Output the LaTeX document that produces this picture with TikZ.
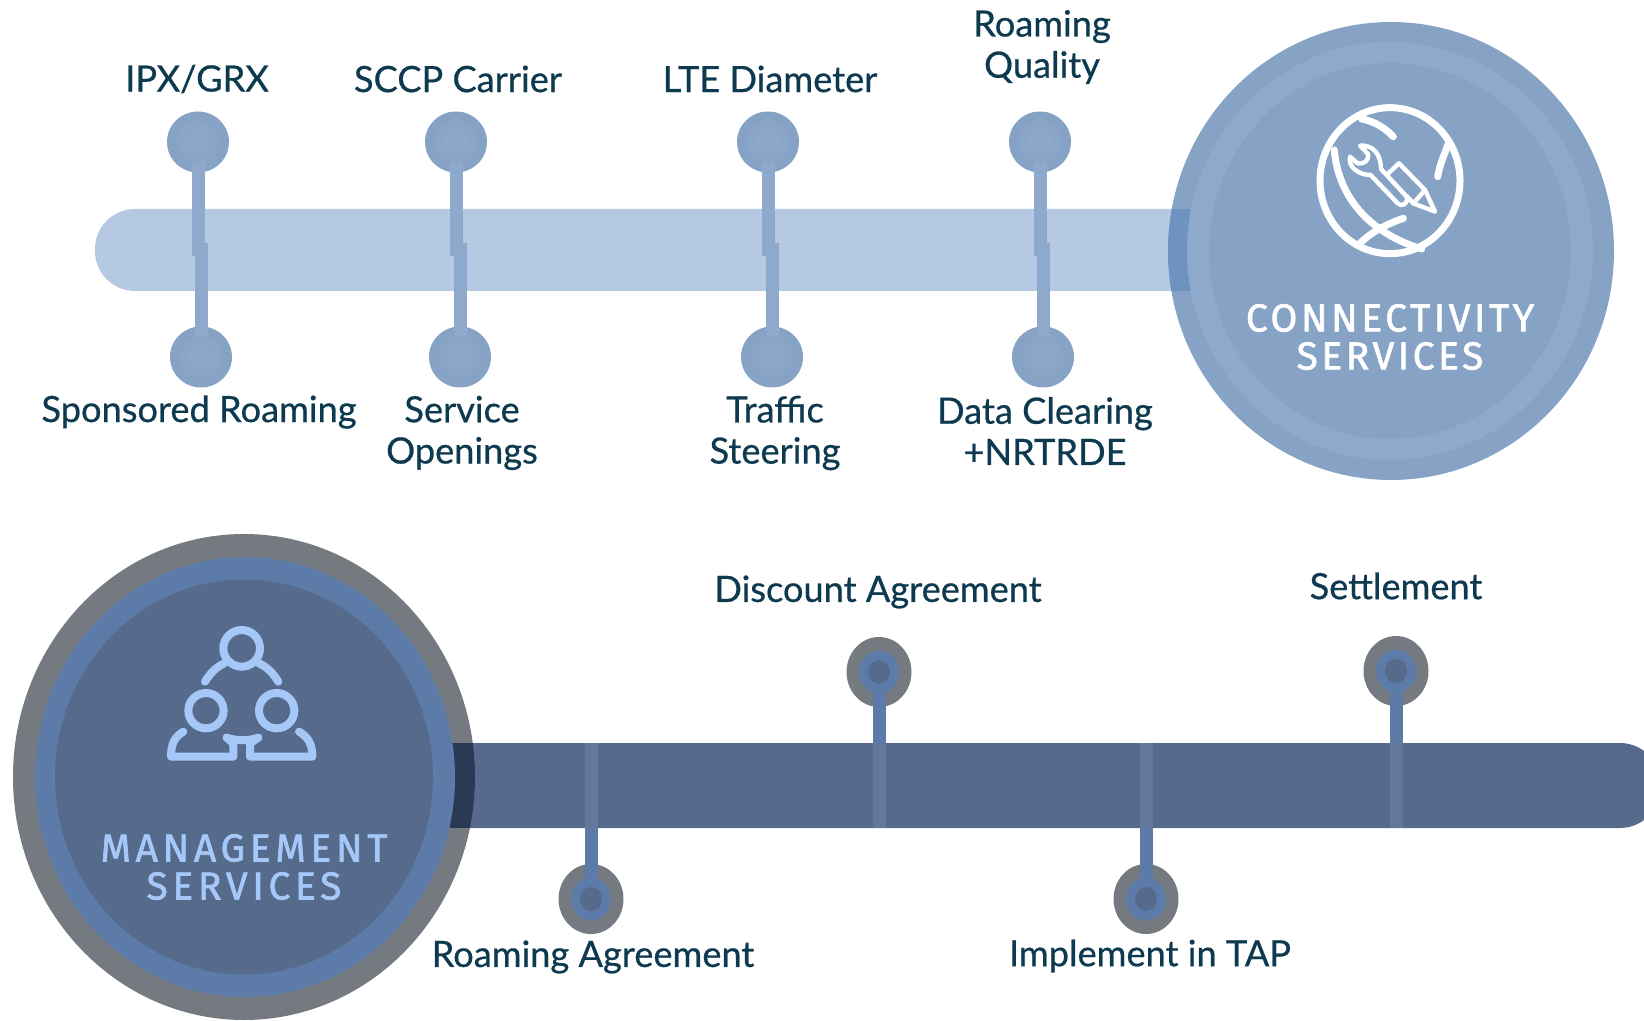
\documentclass[tikz,border=0pt]{standalone}
\usepackage{fontspec}
\setmainfont{Lato}[RawFeature={embolden=0.6}]
\newfontfamily\titlefonta{Fira Sans}[LetterSpace=9.0,RawFeature={embolden=1.6}]
\newfontfamily\titlefontb{Fira Sans}[LetterSpace=12.0,RawFeature={embolden=1.6}]
\usetikzlibrary{shapes.geometric}
\definecolor{lbar}{HTML}{B5CAE2}
\definecolor{lmain}{HTML}{86A3C6}
\definecolor{lring}{HTML}{8DA9CB}
\definecolor{lpinr}{HTML}{89A6C9}
\definecolor{ldot}{HTML}{8FA7C6}
\definecolor{lover}{HTML}{6F93C0}
\definecolor{lconn}{HTML}{8EA9CB}
\definecolor{dgray}{HTML}{757A80}
\definecolor{dring}{HTML}{5C7BA8}
\definecolor{dmain}{HTML}{566B8C}
\definecolor{dover}{HTML}{2A3A55}
\definecolor{dicon}{HTML}{A5C8F8}
\definecolor{dinbar}{HTML}{62789E}
\definecolor{labelc}{HTML}{0E3A50}
\tikzset{
  x=0.5pt,y=-0.5pt,
  disc/.style={ellipse,inner sep=0pt,outer sep=0pt,draw=none},
  lpin/.style={disc,fill=lmain,minimum width=31pt,minimum height=30.5pt},
  lpinring/.style={disc,fill=lpinr,minimum width=21pt,minimum height=21pt},
  lpindot/.style={disc,fill=ldot,minimum width=13pt,minimum height=13pt},
  dpin/.style={disc,fill=dgray,minimum width=32.5pt,minimum height=35pt},
  dpinring/.style={disc,fill=dring,minimum width=20pt,minimum height=21.5pt},
  dpindot/.style={disc,fill=dmain,minimum width=11pt,minimum height=12pt},
  lconnector/.style={draw=lconn,line width=6.5pt},
  dconnector/.style={draw=dring,line width=6.5pt},
  dbarpart/.style={draw=dinbar,line width=6.5pt},
  lab/.style={font=\fontsize{18.1}{20.6}\selectfont,text=labelc,align=center,inner sep=0pt},
  ttl/.style={font=\fontsize{19.5}{19}\selectfont,align=center,inner sep=0pt},
  icoA/.style={draw=white,line width=3.5pt,line cap=round,line join=round},
  icoT/.style={draw=white,line width=2.2pt,line cap=round,line join=round},
  icoB/.style={draw=dicon,line width=4pt,line cap=round,line join=round},
}
\begin{document}
\begin{tikzpicture}
\useasboundingbox (0,0) rectangle (1644,1021);
\fill[white] (0,0) rectangle (1644,1021);

% ---------- top band
\fill[lbar,rounded corners=20pt] (95,209) rectangle (1230,291);
\node[disc,fill=lmain,minimum width=223pt,minimum height=229pt] (cbig) at (1391,251) {};
\begin{scope}
  \clip (1391,251) ellipse [x radius=223,y radius=229];
  \fill[lover] (1160,209) rectangle (1190,291);
\end{scope}
\node[disc,fill=lring,minimum width=203pt,minimum height=209pt] (cring) at (1390,251) {};
\node[disc,fill=lmain,minimum width=181pt,minimum height=188pt] (cin) at (1390,251) {};

% pins top
\foreach \n/\xa/\xb in {1/198/201,2/456/460,3/768/772,4/1040/1043}{
  \node[lpin] (ta\n) at (\xa,142) {};
  \node[lpin] (tb\n) at (\xb,357) {};
  \draw[lconnector] (ta\n.center) -- (\xa,250) -- (\xb,250) -- (tb\n.center);
  \node[lpinring] (tar\n) at (ta\n) {};
  \node[lpindot] (tad\n) at (ta\n) {};
  \node[lpinring] (tbr\n) at (tb\n) {};
  \node[lpindot] (tbd\n) at (tb\n) {};
}

% labels top
\node[lab] (l1) at (197,79) {IPX/GRX};
\node[lab] (l2) at (458,79) {SCCP Carrier};
\node[lab] (l3) at (770,79) {LTE Diameter};
\node[lab] (l4) at (1042,47) {Roaming\\Quality};
\node[lab] (l5) at (199,412) {Sponsored Roaming};
\node[lab] (l6) at (462,433) {Service\\Openings};
\node[lab] (l7) at (775,433) {Traffic\\Steering};
\node[lab] (l8) at (1045,431) {Data Clearing\\+NRTRDE};

% icon: globe with tools (3x crop coordinates)
\begin{scope}[x=0.16667pt,y=-0.16667pt,shift={(652.5pt,-47.5pt)}]
  \draw[icoA] (255,257) ellipse [x radius=210,y radius=219];
  \draw[icoA] (170,72) .. controls (205,78) and (240,98) .. (265,125);
  \draw[icoA] (398,245) .. controls (405,205) and (420,175) .. (428,150);
  \draw[icoA] (88,165) .. controls (95,260) and (150,400) .. (350,462);
  \draw[icoA] (295,370) .. controls (250,385) and (200,410) .. (165,445);
  % wrench
  \draw[icoT] (228,222) .. controls (228,180) and (205,148) .. (165,152)
     -- (190,178) .. controls (192,198) and (175,208) .. (158,205) -- (135,185)
     .. controls (128,215) and (160,240) .. (197,240)
     -- (278,325) .. controls (290,338) and (312,325) .. (305,305) -- (228,222);
  % pencil
  \draw[icoT] (250,235) -- (282,205) -- (360,285) -- (390,350) -- (325,325) -- (305,303);
  \draw[icoT] (325,325) -- (360,285);
\end{scope}

\node[ttl,text=white] (t1) at (1390,337) {\titlefonta CONNECTIVITY\\\titlefonta SERVICES};

% ---------- bottom band
\fill[dmain,rounded corners=20pt] (400,743) rectangle (1660,828);
\fill[white] (1644.5,700) rectangle (1700,860);
\node[disc,fill=dgray,minimum width=231pt,minimum height=243pt] (mbig) at (244,777) {};
\begin{scope}
  \clip (244,777) ellipse [x radius=231,y radius=243];
  \fill[dover] (450,743) rectangle (490,828);
\end{scope}
\node[disc,fill=dring,minimum width=210pt,minimum height=220pt] (mring) at (245,777) {};
\node[disc,fill=dmain,minimum width=189pt,minimum height=197.5pt] (min) at (244,777) {};

% pins bottom
\coordinate (e1) at (879,828);
\coordinate (e2) at (1396,828);
\coordinate (e3) at (591,743);
\coordinate (e4) at (1146,743);
\foreach \n/\xa/\ya/\yb in {1/879/672/743,2/1396/671/743,3/591/899/828,4/1146/899/828}{
  \node[dpin] (p\n) at (\xa,\ya) {};
  \draw[dconnector] (p\n.center) -- (e\n);
  \draw[dbarpart] (e\n) -- (\xa,\yb);
  \node[dpinring] (pr\n) at (p\n) {};
  \node[dpindot] (pd\n) at (p\n) {};
}

% labels bottom
\node[lab] (l9) at (878,592) {Discount Agreement};
\node[lab] (l10) at (1396,586) {Settlement};
\node[lab] (l11) at (593,957) {Roaming Agreement};
\node[lab] (l12) at (1150,956) {Implement in TAP};

% icon: three people (3x crop coordinates)
\begin{scope}[x=0.16667pt,y=-0.16667pt,shift={(77.5pt,-307.5pt)}]
  \draw[icoB] (260,100) circle [radius=55];
  \draw[icoB] (153,287) circle [radius=53];
  \draw[icoB] (365,287) circle [radius=53];
  \draw[icoB] (150,200) .. controls (165,175) and (185,155) .. (208,145);
  \draw[icoB] (312,145) .. controls (335,155) and (355,175) .. (370,200);
  \draw[icoB] (85,350) .. controls (60,365) and (48,385) .. (48,425) -- (235,425) -- (235,385) -- (215,368);
  \draw[icoB] (432,350) .. controls (458,365) and (472,385) .. (472,425) -- (285,425) -- (285,385) -- (310,368);
  \draw[icoB] (215,368) .. controls (245,378) and (280,378) .. (310,368);
\end{scope}

\node[ttl,text=dicon] (t2) at (244,867) {\titlefontb MANAGEMENT\\\titlefontb SERVICES};
\end{tikzpicture}
\end{document}
